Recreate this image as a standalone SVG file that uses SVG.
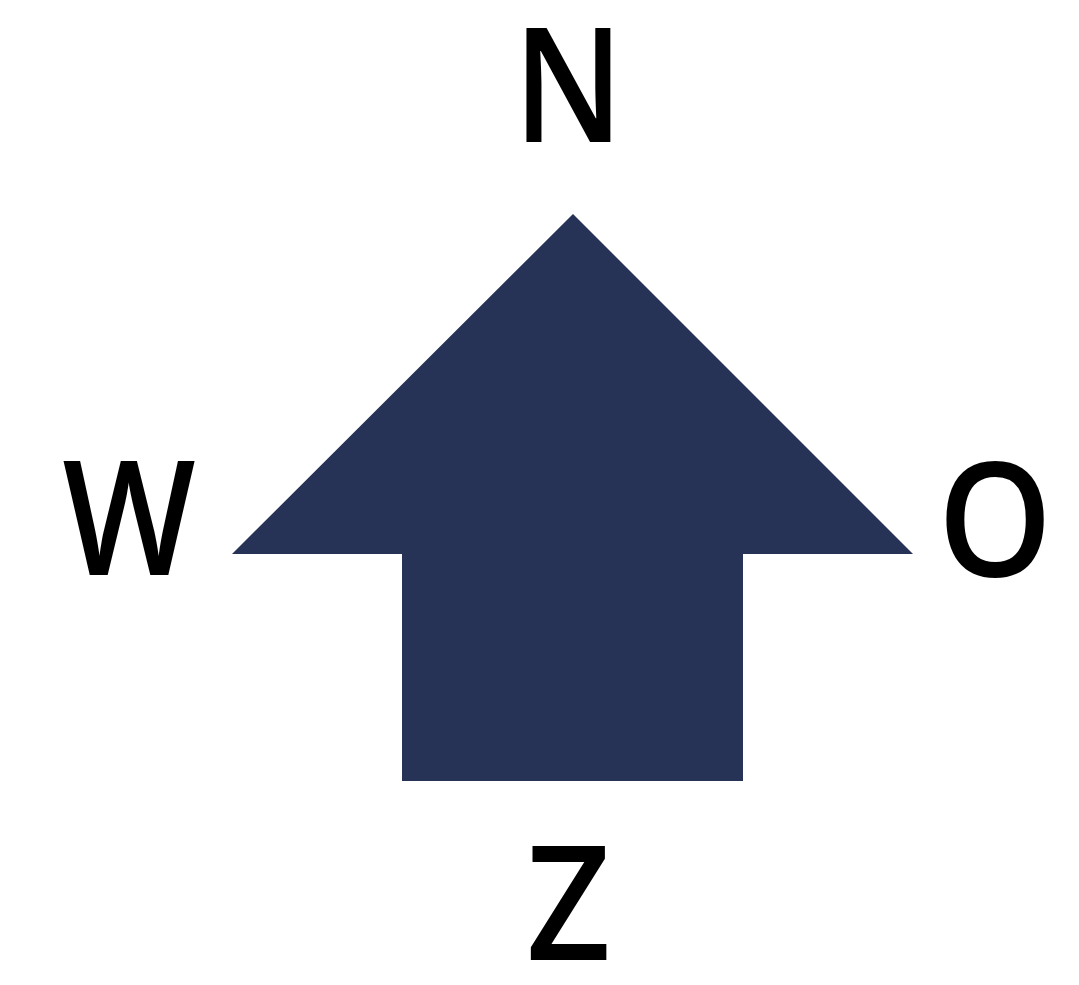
<svg xmlns="http://www.w3.org/2000/svg" width="1079" height="985" viewBox="0 0 1079 985">
<style>
.lbl{font-family:"Open Sans","Liberation Sans",sans-serif;font-size:160px;font-weight:600;fill:#000;text-anchor:middle}
</style>
<rect width="1079" height="985" fill="#fff"/>
<g id="arrow">
<polygon points="573,214 913,554 743,554 743,781 402,781 402,554 232,554" fill="#263356"/>
</g>
<g id="n" transform="translate(568.5,0) scale(0.88,1)"><text class="lbl" x="0" y="142">N</text></g>
<g id="w" transform="translate(129,0) scale(0.88,1)"><text class="lbl" x="0" y="575">W</text></g>
<g id="o" transform="translate(995,0) scale(0.91,1)"><text class="lbl" x="0" y="576">O</text></g>
<g id="z" transform="translate(568.5,0) scale(0.92,1)"><text class="lbl" x="0" y="960">Z</text></g>
<g id="connectors"></g>
</svg>
